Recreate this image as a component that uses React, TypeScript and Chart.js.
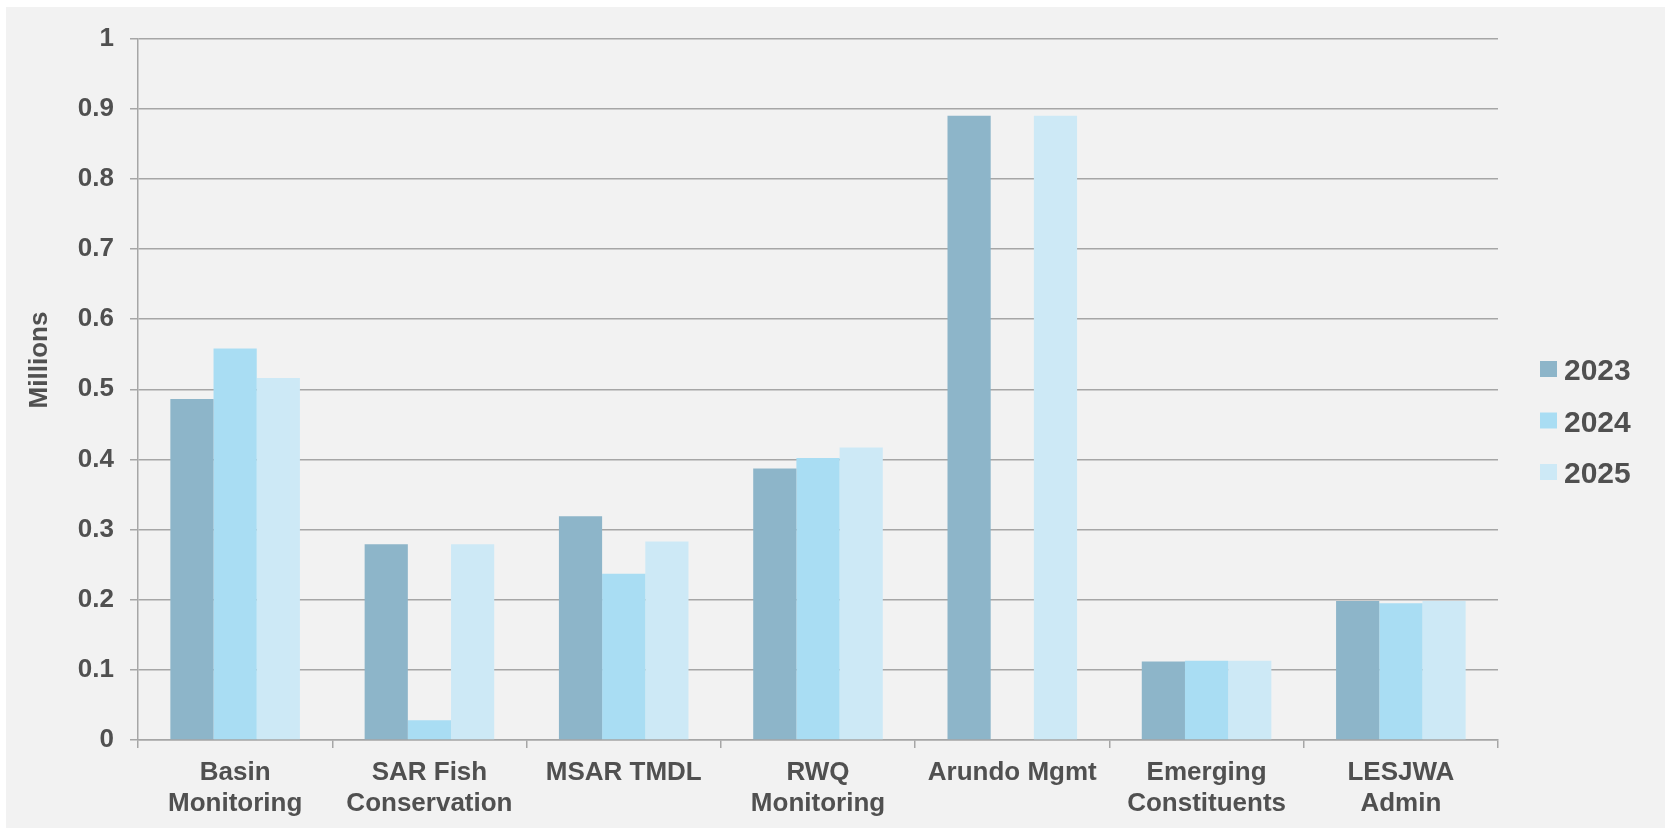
import React, { useEffect, useRef } from 'react';
import { Chart, registerables } from 'chart.js';

Chart.register(...registerables);

const categories: (string | string[])[] = [
  ['Basin', 'Monitoring'],
  ['SAR Fish', 'Conservation'],
  'MSAR TMDL',
  ['RWQ', 'Monitoring'],
  'Arundo Mgmt',
  ['Emerging', 'Constituents'],
  ['LESJWA', 'Admin'],
];
const seriesNames = ['2023', '2024', '2025'];
const values2023 = [0.486, 0.279, 0.319, 0.387, 0.89, 0.112, 0.198];
const values2024 = [0.558, 0.028, 0.237, 0.402, null, 0.113, 0.195];
const values2025 = [0.516, 0.279, 0.283, 0.417, 0.89, 0.113, 0.198];
const yTickLabels = ['0', '0.1', '0.2', '0.3', '0.4', '0.5', '0.6', '0.7', '0.8', '0.9', '1'];
const yTitle = 'Millions';

const seriesColors = ['#8DB5C9', '#A9DDF3', '#CDE9F6'];
const TEXT = '#505050';
const GRID = '#A6A6A6';
const FONT = '"Liberation Sans", Arial, sans-serif';

const overlay = {
  id: 'overlay',
  afterDraw(chart: any) {
    const ctx = chart.ctx as CanvasRenderingContext2D;
    ctx.save();
    ctx.fillStyle = TEXT;
    ctx.font = `bold 26px ${FONT}`;
    ctx.translate(41, 353);
    ctx.rotate(-Math.PI / 2);
    ctx.textAlign = 'center';
    ctx.textBaseline = 'alphabetic';
    ctx.fillText(yTitle, 0, 0);
    ctx.restore();

    ctx.save();
    chart.data.datasets.forEach((ds: any, i: number) => {
      const cy = 362 + i * 51.5;
      ctx.fillStyle = ds.backgroundColor;
      ctx.fillRect(1534, cy - 8, 17, 16);
      ctx.fillStyle = TEXT;
      ctx.font = `bold 30px ${FONT}`;
      ctx.textAlign = 'left';
      ctx.textBaseline = 'alphabetic';
      ctx.fillText(ds.label, 1558, cy + 11);
    });
    ctx.restore();
  },
};

export default function App() {
  const ref = useRef<HTMLCanvasElement>(null);
  useEffect(() => {
    if (!ref.current) return;
    const allValues = [values2023, values2024, values2025];
    const chart = new Chart(ref.current, {
      type: 'bar',
      data: {
        labels: categories,
        datasets: seriesNames.map((name, i) => ({
          label: name,
          data: allValues[i],
          backgroundColor: seriesColors[i],
          borderWidth: 0,
          categoryPercentage: 0.667,
          barPercentage: 1,
        })),
      },
      options: {
        animation: false,
        responsive: false,
        maintainAspectRatio: false,
        layout: { padding: { top: 29, right: 167, left: 0, bottom: 0 } },
        plugins: { legend: { display: false }, tooltip: { enabled: false } },
        scales: {
          x: {
            afterFit: (s: any) => { s.height = 88; },
            grid: {
              offset: true,
              drawOnChartArea: false,
              drawTicks: true,
              tickLength: 8,
              color: GRID,
              lineWidth: 1.5,
            },
            border: { display: true, color: GRID, width: 1.5 },
            ticks: {
              color: TEXT,
              padding: 9,
              maxRotation: 0,
              autoSkip: false,
              font: { family: FONT, size: 26, weight: 'bold', lineHeight: 1.2 },
            },
          },
          y: {
            min: 0,
            max: 1,
            afterFit: (s: any) => { s.width = 132; },
            grid: { color: GRID, lineWidth: 1.5, tickLength: 8, drawTicks: true },
            border: { display: true, color: GRID, width: 1.5 },
            ticks: {
              stepSize: 0.1,
              color: TEXT,
              padding: 16,
              font: { family: FONT, size: 26, weight: 'bold' },
              callback: (_v: any, idx: number) => yTickLabels[idx],
            },
          },
        },
      },
      plugins: [overlay],
    });
    return () => chart.destroy();
  }, []);

  return (
    <div
      style={{
        position: 'absolute',
        left: 6,
        top: 7,
        width: 1659,
        height: 821,
        background: '#F2F2F2',
      }}
    >
      <canvas ref={ref} width={1659} height={821} style={{ display: 'block' }} />
    </div>
  );
}
